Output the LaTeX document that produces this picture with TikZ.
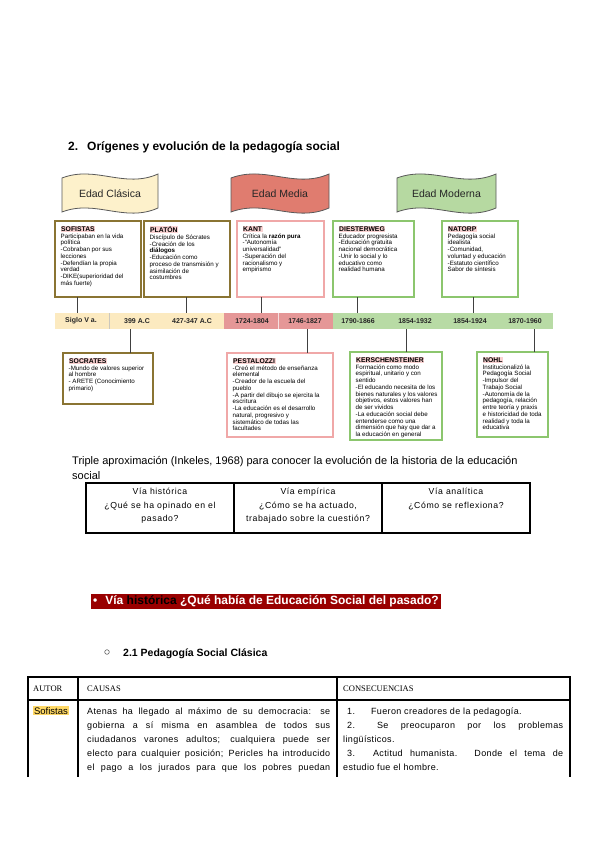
\documentclass[tikz,border=0pt]{standalone}
\usepackage{fontspec}
\setmainfont{Liberation Sans}
\newfontfamily\serifcap{Liberation Serif}
\usetikzlibrary{calc}
\definecolor{brownb}{HTML}{8A7433}
\definecolor{pinkb}{HTML}{F0A8A8}
\definecolor{greenb}{HTML}{8CC66E}
\definecolor{hlpink}{HTML}{F9D2D2}
\definecolor{barY}{HTML}{FCEAC0}
\definecolor{barP}{HTML}{E59797}
\definecolor{barG}{HTML}{B8DBA5}
\definecolor{banY}{HTML}{FDF1CB}
\definecolor{banR}{HTML}{E07C6F}
\definecolor{banG}{HTML}{B6D9A1}
\definecolor{darkred}{HTML}{990000}
\definecolor{hlyel}{HTML}{FFD966}
\newcommand\hdr[1]{{\setlength{\fboxsep}{0.5pt}\colorbox{hlpink}{\fontsize{6.8}{7}\selectfont\bfseries #1}}}
\newcommand\tlbox[7]{%
  \node[#6, anchor=north west, minimum width={#4pt-#2pt}, minimum height={#5pt-#3pt}] (#1) at (#2,#3) {};
  \node[boxtext] (#1t) at ([xshift=5.5pt,yshift=-5pt]#1.north west) {#7};}
\newcommand\banner[7]{%
  \pgfmathsetmacro\bw{#4-#2}
  \draw[bannerline, fill=#6] (#2,#3+4) .. controls ({#2+0.35*\bw},{#3-9}) and ({#2+0.65*\bw},{#3+15}) .. (#4,#3)
     -- (#4,#5) .. controls ({#2+0.65*\bw},{#5+15}) and ({#2+0.35*\bw},{#5-9}) .. (#2,#5+4) -- cycle;
  \node[bannertext] (#1) at ({(#2+#4)/2},{(#3+#5)/2+3}) {#7};}
\begin{document}
\begin{tikzpicture}[x=1pt,y=-1pt,
  brownbox/.style={draw=brownb, line width=1.6pt, fill=white, inner sep=0, outer sep=0},
  pinkbox/.style={draw=pinkb, line width=1.3pt, fill=white, inner sep=0, outer sep=0},
  greenbox/.style={draw=greenb, line width=1.4pt, fill=white, inner sep=0, outer sep=0},
  boxtext/.style={anchor=north west, inner sep=0, align=left, font=\fontsize{6.2}{6.75}\selectfont},
  conn/.style={draw=black!75, line width=0.7pt},
  bannerline/.style={draw=black!65, line width=0.8pt},
  bannertext/.style={font=\fontsize{10.5}{12}\selectfont, text=black!85},
  datelbl/.style={font=\fontsize{7}{8}\selectfont\bfseries, text=black!85, inner sep=0},
  tbl/.style={draw=black, line width=1.1pt},
  ttext/.style={anchor=base west, inner sep=0, font=\fontsize{9}{10}\selectfont\addfontfeature{LetterSpace=4}}]
\useasboundingbox (0,0) rectangle (600,848);
\fill[white] (0,0) rectangle (600,848);

% title
\node[anchor=base west, inner sep=0, font=\fontsize{12}{13}\selectfont\bfseries] (title) at (68,150) {2.\hspace{9pt}Orígenes y evolución de la pedagogía social};

% banners
\banner{bc}{62}{174}{158}{208}{banY}{Edad Clásica}
\banner{bm}{231}{174}{329}{208}{banR}{Edad Media}
\banner{bmo}{397}{174}{496}{208}{banG}{Edad Moderna}

% top boxes
\tlbox{sof}{55}{221}{141}{297}{brownbox}{\hdr{SOFISTAS}\\ Participaban en la vida\\política\\-Cobraban por sus\\lecciones\\-Defendían la propia\\verdad\\-DIKE(superioridad del\\más fuerte)}
\tlbox{pla}{144}{221}{230}{297}{brownbox}{\hdr{PLATÓN}\\ Discípulo de Sócrates\\-Creación de los\\\textbf{diálogos}\\-Educación como\\proceso de transmisión y\\asimilación de\\costumbres}
\tlbox{kan}{237}{221}{324}{297}{pinkbox}{\hdr{KANT}\\ Crítica la \textbf{razón pura}\\-“Autonomía\\universalidad”\\-Superación del\\racionalismo y\\empirismo}
\tlbox{die}{333}{221}{414}{297}{greenbox}{\hdr{DIESTERWEG}\\ Educador progresista\\-Educación gratuita\\nacional democrática\\-Unir lo social y lo\\educativo como\\realidad humana}
\tlbox{nat}{442}{221}{518}{297}{greenbox}{\hdr{NATORP}\\ Pedagogía social\\idealista\\-Comunidad,\\voluntad y educación\\-Estatuto científico\\ Sabor de síntesis}

% timeline bar
\fill[barY] (55,313) rectangle (224,329);
\fill[barP] (224,313) rectangle (333,329);
\fill[barG] (333,313) rectangle (553,329);
\draw[white!70!barY!80!black, line width=0.4pt] (109,313) -- (109,329);
\draw[white!70!barP, line width=0.4pt] (278,313) -- (278,329);
\node[inner sep=0, outer sep=0, anchor=north west, minimum width=498pt, minimum height=16pt] (bar) at (55,313) {};
\node[datelbl] (d1) at (81,321) {Siglo V a.};
\node[datelbl] (d2) at (137,321) {399 A.C};
\node[datelbl] (d3) at (192,321) {427-347 A.C};
\node[datelbl] (d4) at (252,321) {1724-1804};
\node[datelbl] (d5) at (305,321) {1746-1827};
\node[datelbl] (d6) at (358,321) {1790-1866};
\node[datelbl] (d7) at (415,321) {1854-1932};
\node[datelbl] (d8) at (470,321) {1854-1924};
\node[datelbl] (d9) at (525,321) {1870-1960};

% bottom boxes
\tlbox{soc}{63}{353}{153}{404}{brownbox}{\hdr{SOCRATES}\\-Mundo de valores superior\\ al hombre\\ - ARETE (Conocimiento\\primario)}
\tlbox{pes}{227}{353}{333}{437}{pinkbox}{\hdr{PESTALOZZI}\\-Creó el método de enseñanza\\elemental\\-Creador de la escuela del\\pueblo\\-A partir del dibujo se ejercita la\\escritura\\-La educación es el desarrollo\\natural, progresivo y\\sistemático de todas las\\facultades}
\tlbox{ker}{350}{352}{442}{440}{greenbox}{\hdr{KERSCHENSTEINER}\\ Formación como modo\\espiritual, unitario y con\\sentido\\-El educando necesita de los\\bienes naturales y los valores\\objetivos, estos valores han\\de ser vividos\\-La educación social debe\\entenderse como una\\dimensión que hay que dar a\\la educación en general}
\tlbox{noh}{477}{352}{548}{437}{greenbox}{\hdr{NOHL}\\ Institucionalizó la\\Pedagogía Social\\-Impulsor del\\Trabajo Social\\-Autonomía de la\\pedagogía, relación\\entre teoría y praxis\\e historicidad de toda\\realidad y toda la\\educativa}

% connectors
\coordinate (x1) at (77,0);
\coordinate (x2) at (186,0);
\coordinate (x3) at (261,0);
\coordinate (x4) at (357,0);
\coordinate (x5) at (473,0);
\coordinate (x6) at (130,0);
\coordinate (x7) at (307,0);
\coordinate (x8) at (406,0);
\coordinate (x9) at (534,0);
\draw[conn] (sof.south -| x1) -- (bar.north -| x1);
\draw[conn] (pla.south -| x2) -- (bar.north -| x2);
\draw[conn] (kan.south -| x3) -- (bar.north -| x3);
\draw[conn] (die.south -| x4) -- (bar.north -| x4);
\draw[conn] (nat.south -| x5) -- (bar.north -| x5);
\draw[conn] (bar.south -| x6) -- (soc.north -| x6);
\draw[conn] (bar.south -| x7) -- (pes.north -| x7);
\draw[conn] (bar.south -| x8) -- (ker.north -| x8);
\draw[conn] (bar.south -| x9) -- (noh.north -| x9);

% triple approach
\node[anchor=base west, inner sep=0, font=\fontsize{11}{12}\selectfont] (tri1) at (72,464) {Triple aproximación (Inkeles, 1968) para conocer la evolución de la historia de la educación};
\node[anchor=base west, inner sep=0, font=\fontsize{11}{12}\selectfont] (tri2) at (72,479) {social};
\draw[tbl] (86,483) rectangle (530,533);
\draw[tbl] (234,483) -- (234,533);
\draw[tbl] (382,483) -- (382,533);
\tikzset{vtext/.style={anchor=north, align=center, inner sep=0, font=\fontsize{8.7}{13.5}\selectfont\addfontfeature{LetterSpace=7}}}
\node[vtext] (v1) at (160,488) {Vía histórica\\¿Qué se ha opinado en el\\pasado?};
\node[vtext] (v2) at (308,488) {Vía empírica\\¿Cómo se ha actuado,\\trabajado sobre la cuestión?};
\node[vtext] (v3) at (456,488) {Vía analítica\\¿Cómo se reflexiona?};

% bullet band
\node[fill=darkred, text=white, anchor=west, inner xsep=2pt, inner ysep=1.5pt, minimum height=15pt, font=\fontsize{12}{13}\selectfont\bfseries] (via) at (91,601) {\textbullet\hspace{8pt}Vía \textcolor{black}{histórica} ¿Qué había de Educación Social del pasado?};

\draw[black!60, line width=0.6pt] (107,652) circle (2.3);
\node[anchor=base west, inner sep=0, font=\fontsize{10.5}{12}\selectfont\bfseries] (sub) at (123,656) {2.1 Pedagogía Social Clásica};

% big table
\draw[tbl] (28,777) -- (28,677) -- (570,677) -- (570,777);
\draw[tbl] (28,700) -- (570,700);
\draw[tbl] (78,677) -- (78,777);
\draw[tbl] (337,677) -- (337,777);
\node[anchor=base west, inner sep=0, font=\serifcap\fontsize{8.5}{9}\selectfont] (h1) at (33,691) {AUTOR};
\node[anchor=base west, inner sep=0, font=\serifcap\fontsize{8.5}{9}\selectfont] (h2) at (87,691) {CAUSAS};
\node[anchor=base west, inner sep=0, font=\serifcap\fontsize{8.5}{9}\selectfont] (h3) at (343,691) {CONSECUENCIAS};
\node[anchor=base west, fill=hlyel, inner sep=0.8pt, font=\fontsize{9.5}{10}\selectfont] (aut) at (33,714) {Sofistas};
\node[ttext] (c1) at (87,714) {\makebox[243pt][s]{Atenas ha llegado al máximo de su democracia: se}};
\node[ttext] (c2) at (87,728) {\makebox[243pt][s]{gobierna a sí misma en asamblea de todos sus}};
\node[ttext] (c3) at (87,742) {\makebox[243pt][s]{ciudadanos varones adultos; cualquiera puede ser}};
\node[ttext] (c4) at (87,756) {\makebox[243pt][s]{electo para cualquier posición; Pericles ha introducido}};
\node[ttext] (c5) at (87,770) {\makebox[243pt][s]{el pago a los jurados para que los pobres puedan}};
\node[ttext] (k1) at (343,714) {\hspace*{4pt}1.\hspace{16pt}Fueron creadores de la pedagogía.};
\node[ttext] (k2) at (343,728) {\makebox[220pt][s]{\hspace*{4pt}2.\hspace{22pt}Se preocuparon por los problemas}};
\node[ttext] (k3) at (343,742) {lingüísticos.};
\node[ttext] (k4) at (343,756) {\makebox[220pt][s]{\hspace*{4pt}3.\hspace{18pt}Actitud humanista. Donde el tema de}};
\node[ttext] (k5) at (343,770) {estudio fue el hombre.};
\end{tikzpicture}
\end{document}
